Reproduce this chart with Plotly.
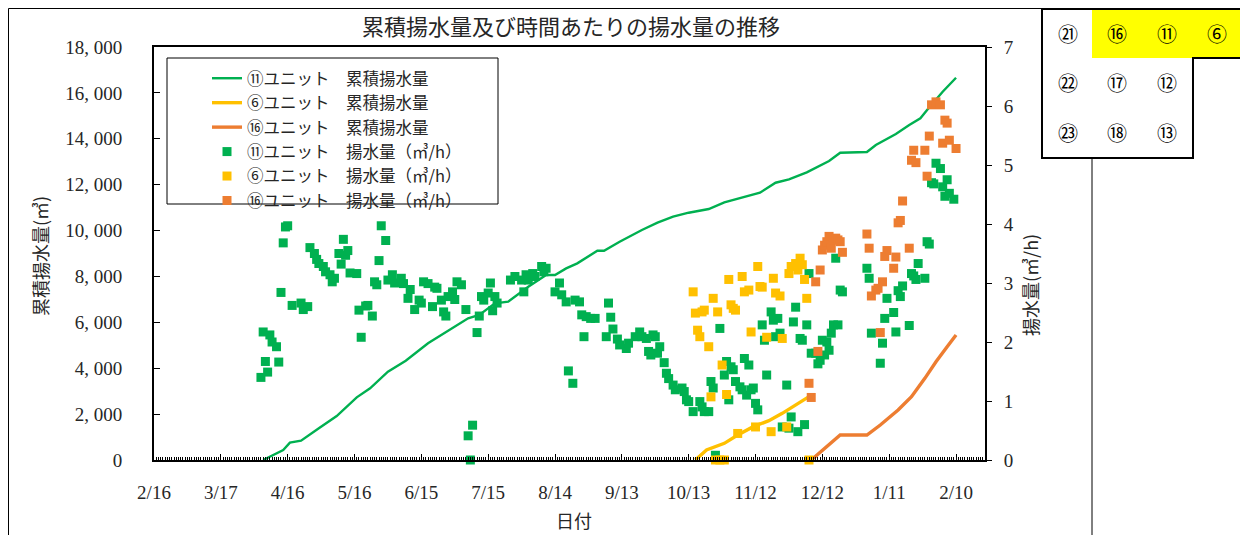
import plotly.graph_objects as go

# ---------------- data ----------------
# cumulative pumped volume (m3) - left axis
g_cum_dates = ["2020-04-05","2020-04-14","2020-04-17","2020-04-22","2020-04-30","2020-05-08","2020-05-17","2020-05-23",
               "2020-05-31","2020-06-08","2020-06-18","2020-06-27","2020-07-06","2020-07-11","2020-07-18","2020-07-24",
               "2020-08-02","2020-08-10","2020-08-14","2020-08-19","2020-08-24","2020-09-02","2020-09-05","2020-09-12",
               "2020-09-22","2020-09-29","2020-10-06","2020-10-13","2020-10-22","2020-10-29","2020-11-08","2020-11-14",
               "2020-11-21","2020-11-27","2020-12-05","2020-12-15","2020-12-20","2021-01-01","2021-01-05","2021-01-14",
               "2021-01-20","2021-01-25","2021-01-28","2021-02-04","2021-02-10"]
g_cum_vals = [0, 436, 755, 843, 1380, 1917, 2732, 3124,
              3850, 4327, 5086, 5621, 6175, 6319, 6829, 6900,
              7553, 8063, 8063, 8353, 8571, 9121, 9121, 9514,
              10023, 10342, 10604, 10778, 10939, 11230, 11505, 11649,
              12085, 12230, 12535, 13030, 13392, 13423, 13728, 14207,
              14600, 14890, 15253, 16050, 16660]

y_cum_dates = ["2020-10-16","2020-10-21","2020-10-29","2020-11-04","2020-11-11","2020-11-18","2020-11-24","2020-11-30","2020-12-06"]
y_cum_vals = [0, 436, 726, 1090, 1453, 1714, 2034, 2397, 2760]

o_cum_dates = ["2020-12-07","2020-12-20","2021-01-01","2021-01-07","2021-01-15","2021-01-21","2021-01-27","2021-02-01","2021-02-06","2021-02-10"]
o_cum_vals = [0, 1090, 1090, 1525, 2179, 2760, 3559, 4284, 4938, 5447]

# pumping rate (m3/h) - right axis
g_rate_dates = [
    "2020-04-04","2020-04-05","2020-04-06","2020-04-07","2020-04-08","2020-04-09","2020-04-11","2020-04-12","2020-04-13","2020-04-14",
    "2020-04-15","2020-04-16","2020-04-18","2020-04-22","2020-04-23","2020-04-25","2020-04-26","2020-04-28","2020-04-29","2020-04-30",
    "2020-05-02","2020-05-03","2020-05-05","2020-05-06","2020-05-07","2020-05-09","2020-05-10","2020-05-11","2020-05-12","2020-05-13",
    "2020-05-14","2020-05-17","2020-05-18","2020-05-19","2020-05-21","2020-05-22","2020-05-24","2020-05-25","2020-05-26","2020-05-27",
    "2020-05-28","2020-05-30","2020-05-31","2020-06-02","2020-06-03","2020-06-06","2020-06-07","2020-06-09","2020-06-10","2020-06-12",
    "2020-06-14","2020-06-15","2020-06-16","2020-06-18","2020-06-20","2020-06-21","2020-06-22","2020-06-24","2020-06-25","2020-06-26",
    "2020-06-27","2020-06-29","2020-06-30","2020-07-01","2020-07-03","2020-07-05","2020-07-06","2020-07-07","2020-07-08","2020-07-10",
    "2020-07-11","2020-07-12","2020-07-13","2020-07-15","2020-07-16","2020-07-17","2020-07-18","2020-07-19","2020-07-25","2020-07-27",
    "2020-07-30","2020-07-31","2020-08-01","2020-08-02","2020-08-04","2020-08-05","2020-08-08","2020-08-09","2020-08-10","2020-08-14",
    "2020-08-16","2020-08-17","2020-08-19","2020-08-20","2020-08-22","2020-08-23","2020-08-25","2020-08-26","2020-08-27","2020-08-28",
    "2020-08-30","2020-09-01","2020-09-06","2020-09-07","2020-09-08","2020-09-09","2020-09-11","2020-09-12","2020-09-15","2020-09-16",
    "2020-09-19","2020-09-21","2020-09-22","2020-09-24","2020-09-25","2020-09-26","2020-09-27","2020-09-28","2020-09-29","2020-09-30",
    "2020-10-02","2020-10-03","2020-10-04","2020-10-06","2020-10-07","2020-10-10","2020-10-11","2020-10-12","2020-10-13","2020-10-15",
    "2020-10-18","2020-10-19","2020-10-20","2020-10-22","2020-10-23","2020-10-24","2020-10-25","2020-10-27","2020-10-29","2020-10-30",
    "2020-10-31","2020-11-01","2020-11-02","2020-11-03","2020-11-05","2020-11-06","2020-11-07","2020-11-08","2020-11-09","2020-11-10",
    "2020-11-11","2020-11-12","2020-11-13","2020-11-15","2020-11-16","2020-11-17","2020-11-19","2020-11-20","2020-11-21","2020-11-22",
    "2020-11-23","2020-11-24","2020-11-26","2020-11-27","2020-11-28","2020-11-29","2020-11-30","2020-12-01","2020-12-02","2020-12-03",
    "2020-12-04","2020-12-05","2020-12-06","2020-12-07","2020-12-09","2020-12-10","2020-12-11","2020-12-12","2020-12-13","2020-12-14",
    "2020-12-15","2020-12-16","2020-12-17","2020-12-18","2020-12-19","2020-12-20","2020-12-21","2021-01-01","2021-01-02","2021-01-03",
    "2021-01-07","2021-01-08","2021-01-09","2021-01-10","2021-01-13","2021-01-14","2021-01-15","2021-01-16","2021-01-17","2021-01-20",
    "2021-01-21","2021-01-22","2021-01-23","2021-01-24","2021-01-27","2021-01-28","2021-01-29","2021-01-30","2021-01-31","2021-02-01",
    "2021-02-03","2021-02-04","2021-02-05","2021-02-06","2021-02-07","2021-02-09"]
g_rate_vals = [
    1.40, 2.17, 1.67, 1.49, 2.12, 2.00, 1.92, 1.66, 2.84, 3.68,
    3.95, 3.97, 2.62, 2.66, 2.55, 2.60, 3.60, 3.50, 3.40, 3.33,
    3.28, 3.19, 3.14, 3.02, 3.08, 3.50, 3.32, 3.74, 3.47, 3.55,
    3.17, 3.16, 2.54, 2.08, 2.61, 2.62, 2.44, 3.02, 2.97, 3.38,
    3.97, 3.72, 3.05, 3.14, 3.00, 3.08, 2.99, 2.74, 2.89, 2.55,
    2.71, 2.66, 3.02, 2.99, 2.60, 2.93, 2.91, 2.71, 2.51, 2.44,
    2.77, 2.85, 2.72, 3.02, 2.97, 2.55, 0.41, 0.00, 0.59, 2.16,
    2.44, 2.77, 2.71, 2.83, 3.00, 2.53, 2.77, 2.66, 3.05, 3.11,
    3.05, 2.85, 3.14, 3.05, 3.16, 3.11, 3.28, 3.19, 3.25, 2.85,
    3.00, 2.80, 2.68, 1.51, 1.30, 2.71, 2.68, 2.46, 2.09, 2.43,
    2.40, 2.40, 2.09, 2.66, 2.42, 2.22, 2.05, 1.95, 1.89, 1.98,
    2.09, 2.17, 2.09, 2.06, 1.84, 1.78, 2.12, 2.09, 1.81, 1.92,
    1.65, 1.47, 1.38, 1.27, 1.19, 1.22, 1.16, 1.02, 0.99, 0.82,
    0.99, 0.90, 0.82, 0.82, 1.33, 1.22, 0.08, 2.23, 1.44, 1.67,
    1.02, 1.58, 1.53, 1.33, 1.24, 1.19, 1.72, 1.10, 1.61, 1.19,
    1.22, 0.96, 0.85, 2.29, 2.03, 1.44, 2.51, 2.37, 2.09, 2.40,
    2.15, 0.56, 1.27, 0.54, 0.73, 2.34, 2.59, 0.48, 2.06, 2.03,
    0.60, 2.29, 3.16, 1.81, 1.81, 1.63, 1.69, 2.03, 1.78, 2.00,
    1.86, 2.15, 2.29, 3.42, 2.29, 2.88, 2.85, 3.25, 3.08, 2.15,
    1.64, 1.98, 2.40, 2.74, 2.50, 2.17, 2.87, 2.77, 2.95, 2.28,
    3.16, 3.12, 3.06, 3.33, 3.08, 3.70, 3.66, 4.70, 4.68, 5.03,
    4.94, 4.63, 4.47, 4.75, 4.52, 4.42]

y_rate_dates = [
    "2020-10-15","2020-10-16","2020-10-17","2020-10-18","2020-10-19","2020-10-20","2020-10-22","2020-10-23","2020-10-24","2020-10-25",
    "2020-10-26","2020-10-27","2020-10-28","2020-10-29","2020-10-30","2020-10-31","2020-11-01","2020-11-02","2020-11-03","2020-11-04",
    "2020-11-06","2020-11-07","2020-11-09","2020-11-10","2020-11-12","2020-11-13","2020-11-14","2020-11-15","2020-11-17","2020-11-19",
    "2020-11-20","2020-11-21","2020-11-23","2020-11-24","2020-11-26","2020-11-27","2020-11-28","2020-11-30","2020-12-01","2020-12-02",
    "2020-12-03","2020-12-04","2020-12-05","2020-12-06"]
y_rate_vals = [
    2.85, 2.49, 2.20, 2.09, 2.51, 2.54, 1.92, 1.07, 2.74, 0.00,
    2.51, 0.00, 1.61, 0.00, 1.11, 3.06, 2.63, 2.57, 2.54, 0.45,
    3.11, 2.85, 2.88, 2.17, 0.56, 3.28, 2.94, 2.93, 2.08, 0.48,
    3.08, 2.83, 2.78, 2.06, 0.56, 3.16, 3.28, 3.33, 3.22, 3.42,
    3.31, 3.06, 2.74, 0.00]

o_rate_dates = [
    "2020-12-06","2020-12-07","2020-12-09","2020-12-10","2020-12-11","2020-12-12","2020-12-13","2020-12-14","2020-12-15","2020-12-16",
    "2020-12-17","2020-12-18","2020-12-19","2020-12-20","2020-12-21","2021-01-01","2021-01-02","2021-01-03","2021-01-05","2021-01-06",
    "2021-01-07","2021-01-08","2021-01-09","2021-01-10","2021-01-13","2021-01-14","2021-01-15","2021-01-16","2021-01-17","2021-01-20",
    "2021-01-21","2021-01-22","2021-01-23","2021-01-27","2021-01-28","2021-01-29","2021-01-30","2021-02-01","2021-02-03","2021-02-04",
    "2021-02-05","2021-02-06","2021-02-07","2021-02-10"]
o_rate_vals = [
    1.30, 1.06, 3.02, 1.84, 3.22, 3.56, 3.64, 3.70, 3.79, 3.59,
    3.73, 3.76, 3.73, 3.70, 3.52, 3.83, 3.59, 2.78, 2.88, 2.91,
    2.16, 3.02, 3.45, 3.55, 3.25, 3.44, 4.02, 4.06, 4.39, 3.59,
    5.08, 5.25, 5.04, 5.25, 4.81, 5.49, 6.02, 6.07, 6.02, 5.37,
    5.76, 5.71, 5.42, 5.28]

x_tick_dates = ["2020-02-16","2020-03-17","2020-04-16","2020-05-16","2020-06-15","2020-07-15","2020-08-14",
                "2020-09-13","2020-10-13","2020-11-12","2020-12-12","2021-01-11","2021-02-10"]
x_tick_labels = ["2/16","3/17","4/16","5/16","6/15","7/15","8/14","9/13","10/13","11/12","12/12","1/11","2/10"]
left_ticks = [0, 2000, 4000, 6000, 8000, 10000, 12000, 14000, 16000, 18000]
right_ticks = [0, 1, 2, 3, 4, 5, 6, 7]

series_names = ["⑪ユニット　累積揚水量", "⑥ユニット　累積揚水量", "⑯ユニット　累積揚水量",
                "⑪ユニット　揚水量（㎥/h）", "⑥ユニット　揚水量（㎥/h）", "⑯ユニット　揚水量（㎥/h）"]
inset_labels = [["㉑", "⑯", "⑪", "⑥"], ["㉒", "⑰", "⑫"], ["㉓", "⑱", "⑬"]]

GREEN, YELLOW, ORANGE = "#00B050", "#FFC000", "#ED7D31"
FONT = "Liberation Serif, Noto Sans CJK JP, serif"
CJK = "Noto Sans CJK JP"
TXT = "#262626"

# ---------------- layout geometry ----------------
# page body has an 8px margin, so figure coords = screen coords - OFF
OFF = 8
W, H = 1240, 527
SL, SR, ST, SB = 154, 985, 47, 460          # plot area in screen pixels
PL, PR, PT, PB = SL - OFF, SR - OFF, ST - OFF, SB - OFF


def px(x):  # screen x -> paper
    return (x - OFF - PL) / (PR - PL)


def py(y):  # screen y -> paper
    return (PB - (y - OFF)) / (PB - PT)


fig = go.Figure()

fig.add_trace(go.Scatter(x=g_cum_dates, y=g_cum_vals, mode="lines", name=series_names[0],
                         line=dict(color=GREEN, width=2.4)))
fig.add_trace(go.Scatter(x=y_cum_dates, y=y_cum_vals, mode="lines", name=series_names[1],
                         line=dict(color=YELLOW, width=3.4)))
fig.add_trace(go.Scatter(x=o_cum_dates, y=o_cum_vals, mode="lines", name=series_names[2],
                         line=dict(color=ORANGE, width=3.4)))
for d, v, c, n in [(g_rate_dates, g_rate_vals, GREEN, series_names[3]),
                   (y_rate_dates, y_rate_vals, YELLOW, series_names[4]),
                   (o_rate_dates, o_rate_vals, ORANGE, series_names[5])]:
    fig.add_trace(go.Scatter(x=d, y=v, mode="markers", name=n, yaxis="y2", cliponaxis=False,
                             marker=dict(symbol="square", size=9, color=c, line=dict(width=0))))

fig.update_layout(
    width=W, height=H,
    margin=dict(l=PL, r=W - PR, t=PT, b=H - PB, autoexpand=False),
    paper_bgcolor="white", plot_bgcolor="white",
    font=dict(family=FONT, color=TXT, size=18),
    title=dict(text="累積揚水量及び時間あたりの揚水量の推移", x=(571 - OFF) / W, xref="container", xanchor="center",
               y=1 - (27 - OFF) / H, yref="container", yanchor="middle",
               font=dict(size=22, family=CJK, color=TXT)),
    showlegend=True,
    legend=dict(x=px(207), y=py(61), xanchor="left", yanchor="top", bgcolor="rgba(0,0,0,0)",
                borderwidth=0, font=dict(size=16.5, family=CJK, color=TXT),
                tracegroupgap=0, itemwidth=30),
    xaxis=dict(type="date", range=["2020-02-16", "2021-02-23"], tickmode="array",
               tickvals=x_tick_dates, ticktext=x_tick_labels,
               ticks="inside", ticklen=6, tickwidth=1, tickcolor="black",
               showline=True, linecolor="black", linewidth=2, mirror=True,
               showgrid=False, zeroline=False, ticklabelstandoff=14,
               tickfont=dict(size=19, family=FONT, color=TXT),
               minor=dict(ticks="inside", ticklen=3, tickwidth=1, tickcolor="black",
                          tickmode="linear", tick0="2020-02-16", dtick=86400000, showgrid=False)),
    yaxis=dict(range=[0, 18000], tickmode="array", tickvals=left_ticks,
               ticktext=["{:,}".format(v).replace(",", ", ") for v in left_ticks],
               ticks="inside", ticklen=6, tickcolor="black",
               showline=True, linecolor="black", linewidth=2, mirror=False,
               showgrid=False, zeroline=False, ticklabelstandoff=26,
               tickfont=dict(size=19, family=FONT, color=TXT)),
    yaxis2=dict(range=[0, 7], tickmode="array", tickvals=right_ticks, overlaying="y", side="right",
                ticks="outside", ticklen=5, tickcolor="black",
                showline=True, linecolor="black", linewidth=2,
                showgrid=False, zeroline=False, ticklabelstandoff=8,
                tickfont=dict(size=19, family=FONT, color=TXT)),
)

shapes = []
# outer chart frame
shapes.append(dict(type="rect", xref="paper", yref="paper", x0=px(8.5), x1=px(1092), y0=py(560), y1=py(8.5),
                   line=dict(color="black", width=1), fillcolor="rgba(0,0,0,0)", layer="below"))
# legend frame
shapes.append(dict(type="rect", xref="paper", yref="paper", x0=px(167), x1=px(498), y0=py(204), y1=py(58),
                   line=dict(color="black", width=1), fillcolor="white", layer="above"))
# inset unit map (L-shaped)
pts = [(1042, 9), (1242, 9), (1242, 58), (1193, 58), (1193, 158), (1042, 158)]
path = "M " + " L ".join("{:.5f},{:.5f}".format(px(a), py(b)) for a, b in pts) + " Z"
shapes.append(dict(type="path", xref="paper", yref="paper", path=path, fillcolor="white",
                   line=dict(color="black", width=0), layer="above"))
shapes.append(dict(type="rect", xref="paper", yref="paper", x0=px(1092), x1=px(1242), y0=py(58), y1=py(9),
                   fillcolor="#FFFF00", line=dict(width=0), layer="above"))
shapes.append(dict(type="path", xref="paper", yref="paper", path=path, fillcolor="rgba(0,0,0,0)",
                   line=dict(color="black", width=2), layer="above"))
fig.update_layout(shapes=shapes)

ann = []
col_x = [1068, 1117, 1167, 1217]
row_y = [33, 82, 133]
for r, row in enumerate(inset_labels):
    for c, lab in enumerate(row):
        ann.append(dict(text=lab, x=px(col_x[c]), y=py(row_y[r]), xref="paper", yref="paper",
                        showarrow=False, xanchor="center", yanchor="middle",
                        font=dict(size=20, family=CJK, color="black")))
ann.append(dict(text="累積揚水量(㎥)", x=px(40), y=py(256), xref="paper", yref="paper", showarrow=False,
                textangle=-90, xanchor="center", yanchor="middle",
                font=dict(size=18, family=CJK, color=TXT)))
ann.append(dict(text="揚水量(㎥/h)", x=px(1030), y=py(285), xref="paper", yref="paper", showarrow=False,
                textangle=-90, xanchor="center", yanchor="middle",
                font=dict(size=18, family=CJK, color=TXT)))
ann.append(dict(text="日付", x=px(574), y=py(520), xref="paper", yref="paper", showarrow=False,
                xanchor="center", yanchor="middle",
                font=dict(size=18, family=CJK, color=TXT)))
fig.update_layout(annotations=ann)

fig.write_html("out.html")
